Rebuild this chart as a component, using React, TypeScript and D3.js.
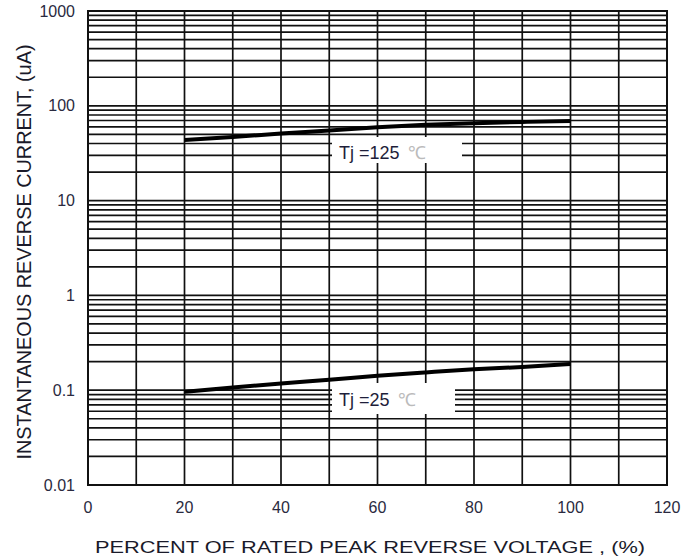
import React from 'react';
import * as d3 from 'd3';

// percent of rated peak reverse voltage
const xTicks = [0, 20, 40, 60, 80, 100, 120];
const xGrid = [0, 10, 20, 30, 40, 50, 60, 70, 80, 90, 100, 110, 120];
const yTicks = [0.01, 0.1, 1, 10, 100, 1000];
const yTickLabels = ['0.01', '0.1', '1', '10', '100', '1000'];
const decades = [0.01, 0.1, 1, 10, 100];
const pctRated = [20, 30, 40, 50, 60, 70, 80, 90, 100];
const ir125 = [43.6, 46.9, 51.0, 55.0, 59.5, 63.0, 65.6, 67.5, 69.2];
const ir25 = [0.096, 0.107, 0.118, 0.129, 0.142, 0.154, 0.166, 0.176, 0.189];

const App: React.FC = () => {
  const width = 694;
  const height = 560;
  const left = 88, right = 667, top = 11, bottom = 485;

  const x = d3.scaleLinear().domain([0, 120]).range([left, right]);
  const y = d3.scaleLog().domain([0.01, 1000]).range([bottom, top]);

  const minor: number[] = [];
  decades.forEach(d => {
    for (let k = 1; k <= 9; k++) minor.push(d * k);
  });
  minor.push(1000);

  const line = d3.line<number>()
    .x((_, i) => x(pctRated[i]))
    .y(d => y(d))
    .curve(d3.curveMonotoneX);

  const font = '"Liberation Sans", Arial, sans-serif';

  return (
    <svg width={width} height={height} style={{ position: 'absolute', left: 0, top: 0, background: '#fff' }}>
      <g stroke="#111" strokeWidth={1.7}>
        {minor.map((v, i) => (
          <line key={'h' + i} x1={left} x2={right} y1={y(v)} y2={y(v)} />
        ))}
        {xGrid.map(v => (
          <line key={'v' + v} x1={x(v)} x2={x(v)} y1={top} y2={bottom} />
        ))}
        <rect x={left} y={top} width={right - left} height={bottom - top} fill="none" strokeWidth={2} />
      </g>

      {/* label backgrounds */}
      <rect x={332} y={137} width={130} height={26} fill="#fff" />
      <rect x={332} y={383} width={123} height={31} fill="#fff" />

      <path d={line(ir125) ?? ''} fill="none" stroke="#000" strokeWidth={4} />
      <path d={line(ir25) ?? ''} fill="none" stroke="#000" strokeWidth={4} />

      <g fontFamily={font} fontSize={18}>
        <text x={339} y={159} fill="#1e1e3a">Tj =125 <tspan dx={3} fill="#bbb">℃</tspan></text>
        <text x={339} y={406} fill="#1e1e3a">Tj =25 <tspan dx={3} fill="#bbb">℃</tspan></text>
      </g>

      <g fontFamily={font} fontSize={16} fill="#2a2a40">
        {yTicks.map((v, i) => (
          <text key={'yt' + v} x={75} y={y(v)} dy="0.35em" textAnchor="end">{yTickLabels[i]}</text>
        ))}
        {xTicks.map(v => (
          <text key={'xt' + v} x={x(v)} y={513} textAnchor="middle">{v}</text>
        ))}
      </g>

      <text x={370} y={553} textAnchor="middle" fontFamily={font} fontSize={17} fill="#1a1a2a"
        textLength={550} lengthAdjust="spacingAndGlyphs">
        PERCENT OF RATED PEAK REVERSE VOLTAGE , (%)
      </text>
      <text transform="translate(31,252) rotate(-90)" textAnchor="middle" fontFamily={font} fontSize={21}
        fill="#1a1a2a" textLength={415} lengthAdjust="spacingAndGlyphs">
        INSTANTANEOUS REVERSE CURRENT, (uA)
      </text>
    </svg>
  );
};

export default App;
